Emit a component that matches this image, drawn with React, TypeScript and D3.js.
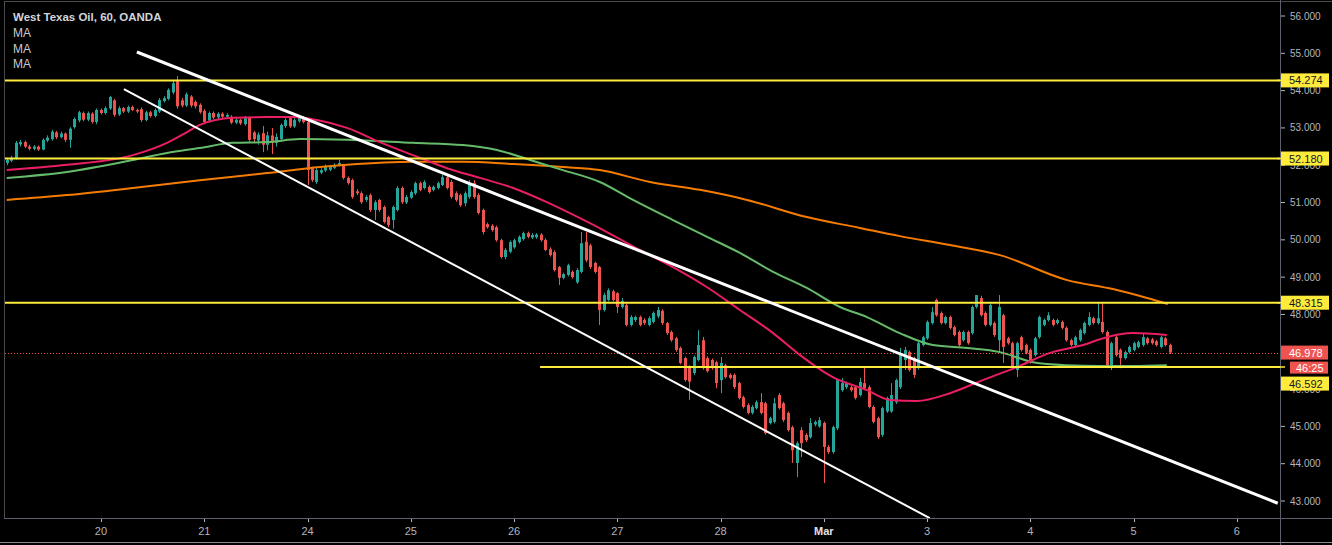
import React from "react";
import * as d3 from "d3";

const W = 1332;
const H = 545;
const PLOT_L = 5;
const PLOT_R = 1280;
const PLOT_T = 2;
const PLOT_B = 518;

const title = "West Texas Oil, 60, OANDA";
const legendNames = ["MA", "MA", "MA"];
const priceTicks = [43, 44, 45, 46, 47, 48, 49, 50, 51, 52, 53, 54, 55, 56];
const dayLabels = ["20", "21", "24", "25", "26", "27", "28", "Mar", "3", "4", "5", "6"];
const dayIndex = [21, 44, 67, 90, 113, 136, 159, 182, 205, 228, 251, 274];

// hourly candles [open, high, low, close]
const candles: number[][] = [
  [52.06,52.20,52.00,52.14],[52.12,52.25,52.08,52.20],[52.18,52.65,52.15,52.60],[52.56,52.68,52.50,52.62],
  [52.62,52.66,52.46,52.50],[52.50,52.55,52.40,52.44],[52.44,52.54,52.40,52.50],[52.50,52.53,52.38,52.42],
  [52.42,52.72,52.40,52.68],[52.66,52.80,52.62,52.74],[52.70,52.95,52.66,52.90],[52.88,52.92,52.70,52.75],
  [52.75,52.90,52.72,52.85],[52.85,52.88,52.62,52.68],[52.68,53.02,52.47,52.98],[53.02,53.28,52.98,53.24],
  [53.20,53.46,53.15,53.42],[53.40,53.44,53.18,53.22],[53.22,53.44,53.18,53.40],[53.38,53.42,53.12,53.16],
  [53.16,53.52,53.10,53.48],[53.48,53.52,53.36,53.40],[53.40,53.58,53.36,53.53],[53.52,53.86,53.48,53.83],
  [53.74,53.78,53.30,53.35],[53.36,53.58,53.32,53.53],[53.53,53.56,53.40,53.44],[53.44,53.60,53.40,53.56],
  [53.56,53.60,53.45,53.48],[53.48,53.52,53.40,53.44],[53.50,53.55,53.16,53.21],[53.21,53.46,53.18,53.42],
  [53.42,53.46,53.28,53.32],[53.32,53.52,53.28,53.48],[53.44,53.80,53.40,53.75],[53.72,53.85,53.68,53.80],
  [53.78,54.06,53.74,54.02],[53.95,54.26,53.90,54.20],[54.25,54.39,53.52,53.58],[53.74,53.80,53.55,53.60],
  [53.60,53.95,53.56,53.90],[53.84,53.88,53.55,53.60],[53.70,53.74,53.52,53.58],[53.62,53.66,53.38,53.42],
  [53.46,53.50,53.10,53.16],[53.20,53.44,53.15,53.40],[53.40,53.44,53.24,53.28],[53.28,53.42,53.24,53.38],
  [53.38,53.42,53.26,53.30],[53.30,53.39,53.26,53.35],[53.30,53.34,53.10,53.14],[53.14,53.26,53.10,53.22],
  [53.22,53.25,53.08,53.12],[53.10,53.32,53.06,53.27],[53.27,53.30,52.62,52.68],[52.88,52.92,52.62,52.70],
  [52.66,52.88,52.55,52.82],[52.86,53.05,52.35,52.55],[52.55,52.90,52.40,52.80],[52.80,53.00,52.30,52.60],
  [52.60,52.85,52.50,52.76],[52.70,53.12,52.65,53.08],[53.05,53.26,53.00,53.21],[53.26,53.30,53.00,53.04],
  [53.04,53.26,53.00,53.21],[53.18,53.32,53.14,53.27],[53.27,53.32,53.12,53.16],[53.16,53.20,51.47,51.87],
  [51.92,51.96,51.55,51.60],[51.55,51.92,51.50,51.87],[51.80,51.92,51.76,51.87],[51.86,52.02,51.82,51.98],
  [51.88,51.99,51.84,51.95],[51.93,52.05,51.90,52.01],[52.00,52.14,51.97,52.06],[52.00,52.04,51.62,51.66],
  [51.66,51.70,51.48,51.52],[51.60,51.64,51.10,51.15],[51.30,51.36,51.20,51.25],[51.25,51.30,50.96,51.01],
  [51.07,51.20,51.02,51.15],[51.20,51.24,50.75,50.80],[50.80,51.06,50.53,51.01],[51.07,51.10,50.75,50.80],
  [50.88,50.92,50.44,50.48],[50.61,50.65,50.34,50.40],[50.53,50.92,50.30,50.88],[50.80,51.44,50.76,51.39],
  [51.39,51.43,50.96,51.01],[51.00,51.20,50.96,51.15],[51.13,51.33,51.10,51.28],[51.25,51.56,51.20,51.52],
  [51.52,51.56,51.30,51.34],[51.39,51.60,51.35,51.55],[51.42,51.46,51.24,51.28],[51.34,51.46,51.30,51.42],
  [51.39,51.56,51.35,51.52],[51.47,51.74,51.44,51.68],[51.68,51.76,51.35,51.39],[51.55,51.60,51.10,51.15],
  [51.25,51.30,51.02,51.07],[51.20,51.24,50.88,50.93],[50.98,51.30,50.90,51.25],[51.15,51.60,51.10,51.52],
  [51.52,51.60,51.10,51.15],[51.20,51.25,50.68,50.72],[50.80,50.84,50.15,50.21],[50.42,50.46,50.30,50.34],
  [50.38,50.42,50.22,50.26],[50.34,50.38,49.95,49.99],[49.99,50.03,49.50,49.54],[49.54,49.78,49.48,49.73],
  [49.68,49.98,49.64,49.94],[49.80,50.03,49.76,49.99],[49.94,50.12,49.90,50.08],[50.02,50.22,49.98,50.18],
  [50.18,50.22,50.04,50.08],[50.06,50.18,50.02,50.13],[50.07,50.18,50.03,50.14],[50.14,50.18,49.95,49.99],
  [50.00,50.04,49.70,49.73],[49.75,49.80,49.55,49.59],[49.67,49.72,49.15,49.19],[49.27,49.30,48.79,48.98],
  [48.98,49.12,48.94,49.08],[49.06,49.36,49.02,49.32],[49.14,49.18,48.96,49.00],[48.86,49.24,48.82,49.19],
  [49.14,50.21,49.10,49.91],[49.95,50.21,49.40,49.45],[49.85,49.90,49.22,49.27],[49.38,49.42,49.10,49.14],
  [49.27,49.30,47.72,48.12],[48.12,48.58,48.08,48.52],[48.39,48.70,48.35,48.65],[48.62,48.66,48.35,48.39],
  [48.57,48.60,48.04,48.20],[48.20,48.44,48.16,48.36],[48.25,48.30,47.68,47.72],[47.72,47.98,47.68,47.93],
  [47.85,47.97,47.80,47.93],[47.93,47.97,47.68,47.72],[47.85,47.90,47.72,47.77],[47.72,47.95,47.68,47.90],
  [47.80,48.08,47.76,48.04],[47.95,48.20,47.90,48.12],[48.10,48.14,47.72,47.77],[47.77,47.80,47.45,47.50],
  [47.53,47.57,47.27,47.31],[47.36,47.40,47.00,47.05],[47.10,47.14,46.66,46.70],[46.83,46.87,46.20,46.24],
  [46.60,46.64,45.71,46.20],[46.43,46.90,46.38,46.86],[46.78,47.58,46.74,47.18],[47.31,47.40,46.52,46.56],
  [46.83,46.88,46.44,46.48],[46.78,46.82,46.52,46.56],[46.72,46.76,46.02,46.16],[46.24,46.86,45.89,46.70],
  [46.64,46.68,46.28,46.32],[46.38,46.42,46.26,46.30],[46.38,46.42,46.00,46.05],[46.16,46.20,45.72,45.76],
  [45.78,45.82,45.48,45.52],[45.57,45.62,45.32,45.36],[45.36,45.57,45.32,45.52],[45.49,45.70,45.45,45.65],
  [45.65,45.89,45.32,45.36],[45.62,45.66,44.78,44.82],[45.09,45.26,45.05,45.22],[45.12,45.76,45.08,45.62],
  [45.84,45.89,45.45,45.49],[45.62,45.66,45.12,45.17],[45.36,45.40,44.86,44.90],[44.98,45.02,44.02,44.36],
  [44.02,44.60,43.64,44.55],[44.90,44.98,44.18,44.55],[44.77,44.82,44.58,44.63],[44.71,45.22,44.67,45.09],
  [45.05,45.16,45.00,45.12],[45.00,45.25,44.96,45.17],[45.09,45.13,43.48,44.45],[44.45,44.50,44.26,44.31],
  [44.31,45.02,44.27,44.98],[44.95,46.28,44.90,46.24],[45.97,46.30,45.93,46.16],[46.05,46.20,46.00,46.16],
  [46.05,46.10,45.93,45.97],[46.05,46.10,45.72,45.76],[45.84,46.30,45.80,46.19],[46.16,46.56,45.98,46.02],
  [46.05,46.10,45.48,45.52],[45.52,45.56,45.08,45.12],[45.22,45.26,44.66,44.71],[44.77,45.53,44.72,45.49],
  [45.40,45.80,45.36,45.76],[45.40,46.16,45.36,45.84],[45.65,46.28,45.60,46.24],[46.05,47.10,46.00,46.91],
  [46.78,47.13,46.51,47.05],[46.99,47.03,46.47,46.51],[46.83,46.87,46.30,46.38],[46.56,47.27,46.52,47.23],
  [47.18,47.43,47.14,47.39],[47.36,47.84,47.32,47.80],[47.77,48.20,47.73,48.06],[48.39,48.42,47.94,47.98],
  [48.04,48.08,47.73,47.77],[47.77,47.97,47.73,47.93],[47.93,47.97,47.60,47.64],[47.66,47.70,47.41,47.45],
  [47.53,47.57,47.14,47.18],[47.31,47.57,47.27,47.53],[47.53,47.57,47.19,47.23],[47.50,48.24,47.46,48.20],
  [48.20,48.52,48.16,48.52],[48.44,48.50,47.94,47.98],[48.04,48.08,47.68,47.72],[47.72,48.30,47.68,48.25],
  [47.77,47.81,47.40,47.45],[47.31,48.52,46.99,48.20],[47.98,48.02,46.70,47.13],[47.36,47.40,47.19,47.23],
  [47.23,47.27,46.52,46.56],[46.51,47.27,46.32,47.23],[47.39,47.43,47.01,47.05],[47.18,47.22,46.93,46.97],
  [47.05,47.09,46.68,46.72],[46.91,47.40,46.87,47.36],[47.39,47.97,47.35,47.93],[47.72,47.89,47.68,47.85],
  [47.85,48.06,47.81,47.98],[47.85,47.89,47.68,47.72],[47.77,47.89,47.73,47.85],[47.80,47.84,47.60,47.64],
  [47.64,47.68,47.27,47.31],[47.31,47.35,47.14,47.18],[47.18,47.43,47.14,47.39],[47.31,47.62,47.27,47.58],
  [47.50,47.81,47.46,47.77],[47.72,48.06,47.68,47.93],[47.90,47.94,47.73,47.77],[47.77,48.31,47.73,47.90],
  [47.80,48.31,47.49,47.53],[47.53,47.57,46.56,46.64],[46.64,47.27,46.51,47.23],[47.39,47.43,46.87,46.91],
  [47.05,47.09,46.56,46.83],[46.83,47.03,46.79,46.99],[46.99,47.17,46.95,47.13],[47.05,47.27,47.01,47.23],
  [47.13,47.30,47.09,47.26],[47.18,47.50,47.14,47.39],[47.36,47.40,47.19,47.23],[47.33,47.37,47.19,47.23],
  [47.28,47.32,47.14,47.18],[47.13,47.43,47.09,47.39],[47.36,47.40,47.14,47.18],[47.18,47.22,46.94,46.98],
];

// moving averages, sampled [bar index, price]
const maFast: number[][] = [
  [0,51.87],[13.4,52.01],[28.1,52.27],[35.7,52.60],[40.2,52.89],[43.0,53.08],[50.4,53.27],[58.0,53.29],
  [63.8,53.29],[69.1,53.21],[75.8,53.00],[83.1,52.62],[90.5,52.27],[98.1,51.92],[105.4,51.66],[112.8,51.39],
  [120.3,51.01],[127.7,50.58],[133.7,50.21],[141.0,49.73],[148.4,49.27],[156.0,48.73],[163.3,48.12],
  [170.7,47.50],[176.7,46.91],[184.0,46.32],[191.6,45.97],[196.7,45.71],[202.7,45.68],[210.1,45.89],
  [217.4,46.24],[225.0,46.59],[232.4,46.97],[239.7,47.18],[245.0,47.39],[250.8,47.50],[258.4,47.45],
];
const maMid: number[][] = [
  [0,51.66],[13.4,51.82],[28.1,52.14],[35.7,52.33],[43.0,52.46],[50.4,52.60],[58.0,52.62],[65.3,52.70],
  [75.8,52.68],[90.5,52.60],[101.6,52.54],[109.2,52.41],[116.6,52.14],[123.9,51.87],[132.1,51.55],
  [139.5,51.07],[148.4,50.53],[156.0,50.08],[163.3,49.65],[170.7,49.14],[178.2,48.71],[185.6,48.20],
  [191.6,47.93],[198.9,47.50],[206.3,47.18],[213.9,47.10],[221.2,46.99],[228.6,46.72],[236.2,46.64],
  [243.5,46.62],[250.8,46.62],[258.4,46.64],
];
const maSlow: number[][] = [
  [0,51.07],[13.4,51.20],[28.1,51.39],[43.0,51.60],[58.0,51.79],[69.8,51.95],[75.8,52.01],[90.5,52.09],
  [101.6,52.09],[112.8,52.03],[123.9,51.95],[132.1,51.87],[143.3,51.55],[154.4,51.34],[164.9,51.07],
  [178.2,50.61],[190.0,50.32],[198.9,50.10],[210.1,49.86],[221.2,49.59],[236.2,48.92],[246.4,48.68],
  [254.0,48.44],[258.6,48.28],
];

const levels = [54.274, 52.18, 48.315, 46.592];
const levelStart = [-2, -2, -2, 118.8];
const lastPrice = 46.978;
const countdown = "46:25";
const trendUpper = [[29.0, 55.035], [283.1, 42.94]];
const trendLower = [[26.1, 54.04], [205.6, 42.54]];

const UP = "#26a69a";
const DOWN = "#ef5350";
const YELLOW = "#ffeb3b";
const FONT = "'Liberation Sans', Arial, sans-serif";

export default function App() {
  const x = d3.scaleLinear().domain([0, 283.6]).range([6.7, PLOT_R]);
  const y = d3.scaleLinear().domain([43, 56]).range([501, 16]);
  const line = d3
    .line<number[]>()
    .x((d) => x(d[0]))
    .y((d) => y(d[1]))
    .curve(d3.curveMonotoneX);
  const seg = d3
    .line<number[]>()
    .x((d) => x(d[0]))
    .y((d) => y(d[1]));

  // right-axis labels with stacking
  const labels: { v: number; text: string; kind: string; y: number }[] = [];
  levels.forEach((v) => labels.push({ v, text: v.toFixed(3), kind: "level", y: y(v) }));
  labels.push({ v: lastPrice, text: lastPrice.toFixed(3), kind: "price", y: y(lastPrice) });
  labels.sort((a, b) => a.y - b.y);
  const placed: { v: number; text: string; kind: string; y: number }[] = [];
  let prevBottom = -100;
  labels.forEach((l) => {
    let ly = Math.max(l.y, prevBottom + 8);
    placed.push({ ...l, y: ly });
    prevBottom = ly + 8;
    if (l.kind === "price") {
      const cy = ly + 15;
      placed.push({ v: l.v, text: countdown, kind: "count", y: cy });
      prevBottom = cy + 8;
    }
  });

  return (
    <svg
      width={W}
      height={H}
      style={{ position: "absolute", left: 0, top: 0, background: "#000" }}
      fontFamily={FONT}
    >
      <defs>
        <clipPath id="plot">
          <rect x={PLOT_L} y={PLOT_T} width={PLOT_R - PLOT_L} height={PLOT_B - PLOT_T} />
        </clipPath>
      </defs>
      <rect x={0} y={0} width={W} height={H} fill="#000" />

      <g clipPath="url(#plot)">
        {/* candles */}
        {candles.map((c, i) => {
          const [o, h, l, cl] = c;
          const col = cl >= o ? UP : DOWN;
          const cx = Math.round(x(i)) + 0.5;
          const top = y(Math.max(o, cl));
          const bot = y(Math.min(o, cl));
          return (
            <g key={i}>
              <line x1={cx} x2={cx} y1={y(h)} y2={y(l)} stroke={col} strokeWidth={1} />
              <rect x={cx - 1.5} y={top} width={3} height={Math.max(1, bot - top)} fill={col} />
            </g>
          );
        })}

        {/* moving averages */}
        <path d={line(maSlow) || ""} fill="none" stroke="#f57c00" strokeWidth={2} />
        <path d={line(maMid) || ""} fill="none" stroke="#66bb6a" strokeWidth={2} />
        <path d={line(maFast) || ""} fill="none" stroke="#e91e63" strokeWidth={2} />

        {/* horizontal levels */}
        {levels.map((v, k) => (
          <line
            key={k}
            x1={x(levelStart[k])}
            x2={PLOT_R}
            y1={y(v)}
            y2={y(v)}
            stroke={YELLOW}
            strokeWidth={2}
          />
        ))}

        {/* last price line */}
        <line
          x1={PLOT_L}
          x2={PLOT_R}
          y1={Math.round(y(lastPrice)) + 0.5}
          y2={Math.round(y(lastPrice)) + 0.5}
          stroke={DOWN}
          strokeWidth={1}
          strokeDasharray="1 2"
        />

        {/* trend lines */}
        <path d={seg(trendUpper) || ""} stroke="#ffffff" strokeWidth={3} fill="none" />
        <path d={seg(trendLower) || ""} stroke="#ffffff" strokeWidth={2} fill="none" />
      </g>

      {/* frame */}
      <line x1={4.5} x2={4.5} y1={1} y2={PLOT_B} stroke="#4a4a4a" />
      <line x1={4} x2={W} y1={1.5} y2={1.5} stroke="#4a4a4a" />
      <line x1={PLOT_R + 0.5} x2={PLOT_R + 0.5} y1={0} y2={H} stroke="#5d606b" />
      <line x1={4} x2={W} y1={PLOT_B + 0.5} y2={PLOT_B + 0.5} stroke="#5d606b" />
      <line x1={0} x2={W} y1={542.5} y2={542.5} stroke="#8a8a8a" />

      {/* y axis */}
      {priceTicks.map((p) => (
        <g key={p}>
          <line x1={PLOT_R + 1} x2={PLOT_R + 5} y1={y(p)} y2={y(p)} stroke="#b2b5be" />
          <text x={1290} y={y(p) + 3.5} fontSize={10} fill="#b2b5be">
            {p.toFixed(3)}
          </text>
        </g>
      ))}

      {/* x axis */}
      {dayLabels.map((d, k) => (
        <g key={d}>
          <line
            x1={Math.round(x(dayIndex[k])) + 0.5}
            x2={Math.round(x(dayIndex[k])) + 0.5}
            y1={PLOT_B + 1}
            y2={PLOT_B + 4}
            stroke="#b2b5be"
          />
          <text
            x={x(dayIndex[k])}
            y={535}
            fontSize={11}
            textAnchor="middle"
            fill={d === "Mar" ? "#e0e3eb" : "#b2b5be"}
            fontWeight={d === "Mar" ? "bold" : "normal"}
          >
            {d}
          </text>
        </g>
      ))}

      {/* axis labels */}
      {placed.map((l, k) => {
        if (l.kind === "level") {
          return (
            <g key={k}>
              <line x1={PLOT_R - 3} x2={PLOT_R + 5} y1={y(l.v)} y2={y(l.v)} stroke={YELLOW} strokeWidth={1.5} />
              <rect x={PLOT_R + 1} y={l.y - 7} width={48} height={14} fill={YELLOW} />
              <text x={1289} y={l.y + 4} fontSize={11} fill="#131722">
                {l.text}
              </text>
            </g>
          );
        }
        if (l.kind === "price") {
          return (
            <g key={k}>
              <rect x={PLOT_R + 1} y={l.y - 7} width={47} height={14} fill={DOWN} />
              <text x={1289} y={l.y + 4} fontSize={11} fill="#ffffff">
                {l.text}
              </text>
            </g>
          );
        }
        return (
          <g key={k}>
            <rect x={1290} y={l.y - 6} width={38} height={12} fill={DOWN} />
            <text x={1296} y={l.y + 4} fontSize={11} fill="#ffffff">
              {l.text}
            </text>
          </g>
        );
      })}

      {/* legend */}
      <text x={13} y={21} fontSize={11.5} fontWeight="bold" fill="#d1d4dc">
        {title}
      </text>
      {legendNames.map((n, k) => (
        <text key={k} x={13} y={37 + k * 15.5} fontSize={12} fill="#c8cad0">
          {n}
        </text>
      ))}
    </svg>
  );
}
